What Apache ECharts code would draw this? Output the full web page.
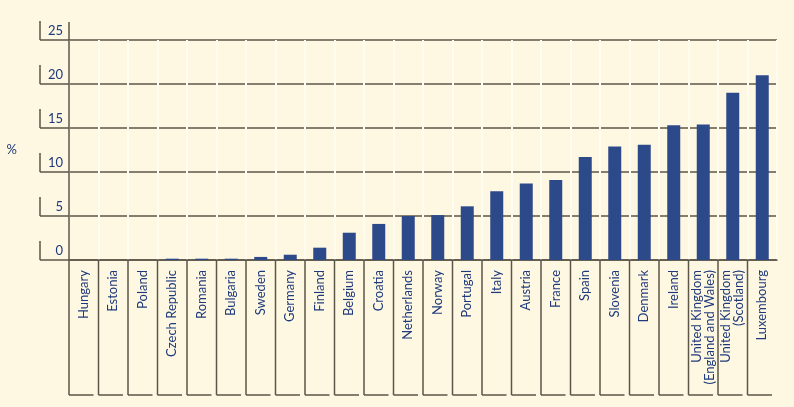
<!DOCTYPE html>
<html>
<head>
<meta charset="utf-8">
<script src="https://cdn.jsdelivr.net/npm/echarts@6/dist/echarts.min.js"></script>
<style>
  html, body { margin: 0; padding: 0; background: #fef8e2; }
  #chart { width: 794px; height: 407px; }
</style>
</head>
<body>
<div id="chart"></div>
<script>
const categories = [
  'Hungary', 'Estonia', 'Poland', 'Czech Republic', 'Romania', 'Bulgaria',
  'Sweden', 'Germany', 'Finland', 'Belgium', 'Croatia', 'Netherlands',
  'Norway', 'Portugal', 'Italy', 'Austria', 'France', 'Spain', 'Slovenia',
  'Denmark', 'Ireland', 'United Kingdom\n(England and Wales)',
  'United Kingdom\n(Scotland)', 'Luxembourg'
]
const values = [
  0, 0, 0, 0.15, 0.15, 0.15, 0.35, 0.6, 1.4, 3.1, 4.1, 5.0,
  5.1, 6.1, 7.8, 8.7, 9.1, 11.7, 12.9, 13.1, 15.3, 15.4, 19.0, 21.0
]
const yTicks = [0, 5, 10, 15, 20, 25]

const lineColor = '#5b5648'
const textColor = '#1f3a7c'
const font = 'Lato, "Open Sans", sans-serif'

const chart = echarts.init(document.getElementById('chart'))

chart.setOption({
  backgroundColor: '#fef8e2',
  animation: false,
  grid: { left: 69, right: 17, top: 40, bottom: 147 },
  xAxis: {
    type: 'category',
    data: categories,
    boundaryGap: true,
    axisLine: { show: true, lineStyle: { color: lineColor, width: 1.5 } },
    axisTick: { show: false },
    splitLine: { show: true, interval: 0, lineStyle: { color: '#fffcf2', width: 2 } },
    axisLabel: {
      interval: 0,
      rotate: 90,
      margin: 10,
      color: textColor,
      fontFamily: font,
      fontSize: 13,
      lineHeight: 13
    }
  },
  yAxis: {
    type: 'value',
    min: 0,
    max: yTicks[yTicks.length - 1],
    interval: 5,
    name: '%',
    nameLocation: 'middle',
    nameRotate: 0,
    nameGap: 52,
    nameTextStyle: { color: textColor, fontFamily: font, fontSize: 13 },
    axisLine: { show: true, lineStyle: { color: lineColor, width: 1.5 } },
    axisTick: { show: true, length: 29, lineStyle: { color: lineColor, width: 1.5 } },
    splitLine: { show: true, lineStyle: { color: lineColor, width: 1.5 } },
    axisLabel: {
      margin: 6,
      verticalAlign: 'bottom',
      padding: [0, 0, 3, 0],
      color: textColor,
      fontFamily: font,
      fontSize: 13
    }
  },
  series: [
    {
      type: 'bar',
      data: values,
      barWidth: 13,
      itemStyle: { color: '#2c4a8a' }
    }
  ]
})

// frame lines: label boxes on the left and category boxes below
const x0 = chart.convertToPixel({ xAxisIndex: 0 }, 0)
const band = chart.convertToPixel({ xAxisIndex: 0 }, 1) - x0
const yBase = chart.convertToPixel({ yAxisIndex: 0 }, 0)
const yTop = chart.convertToPixel({ yAxisIndex: 0 }, yTicks[yTicks.length - 1])
const bottomY = 395
const style = { stroke: lineColor, lineWidth: 1.5 }
const graphics = []

yTicks.forEach((v) => {
  const y = chart.convertToPixel({ yAxisIndex: 0 }, v)
  graphics.push({ type: 'line', shape: { x1: 40, y1: y - 19, x2: 40, y2: y }, style })
})
graphics.push({ type: 'line', shape: { x1: x0 - band / 2, y1: yTop - 18, x2: x0 - band / 2, y2: yTop }, style })

categories.forEach((c, i) => {
  const left = chart.convertToPixel({ xAxisIndex: 0 }, i) - band / 2
  graphics.push({ type: 'line', shape: { x1: left, y1: yBase, x2: left, y2: bottomY }, style })
  graphics.push({ type: 'line', shape: { x1: left, y1: bottomY, x2: left + band - 5, y2: bottomY }, style })
})

chart.setOption({ graphic: graphics })
</script>
</body>
</html>
